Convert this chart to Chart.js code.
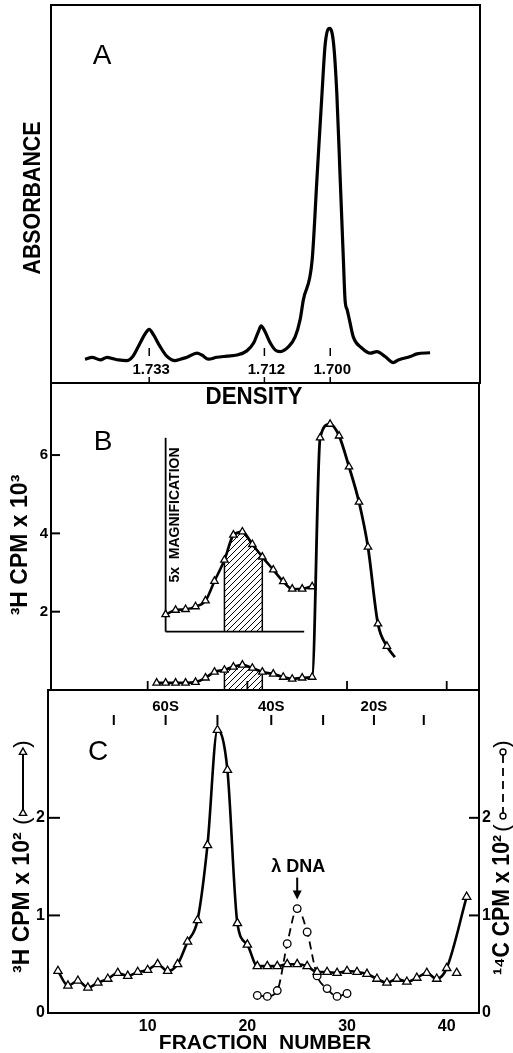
<!DOCTYPE html>
<html lang="en">
<head>
<meta charset="UTF-8">
<title>Density gradient and sedimentation profiles</title>
<script src="https://cdn.jsdelivr.net/npm/chart.js@4.4.1/dist/chart.umd.min.js"></script>
<style>
  html, body { margin: 0; padding: 0; background: #fff; }
  #wrap { position: relative; width: 513px; height: 1053px; }
  #wrap canvas { position: absolute; left: 0; top: 0; }
</style>
</head>
<body>
<div id="wrap">
  <canvas id="chartA" width="513" height="1053"></canvas>
  <canvas id="chartB" width="513" height="1053"></canvas>
  <canvas id="chartC" width="513" height="1053"></canvas>
</div>
<script>
// Panel A - absorbance trace across the density gradient (arbitrary units)
var densityA = [1.7447, 1.7434, 1.7419, 1.7407, 1.7395, 1.7386, 1.7371, 1.7360, 1.7350, 1.7337,
  1.7330, 1.7322, 1.7310, 1.7298, 1.7283, 1.7273, 1.7261, 1.7243, 1.7234, 1.7222,
  1.7207, 1.7188, 1.7170, 1.7152, 1.7140, 1.7131, 1.7126, 1.7119, 1.7109, 1.7100,
  1.7091, 1.7076, 1.7064, 1.7055, 1.7049, 1.7033, 1.7024, 1.7015, 1.7009, 1.7001,
  1.6994, 1.6988, 1.6982, 1.6976, 1.6973, 1.6969, 1.6965, 1.6958, 1.6942, 1.6927,
  1.6915, 1.6900, 1.6885, 1.6876, 1.6854, 1.6842, 1.6818];
var absorbA = [6.3, 6.8, 6.1, 6.8, 6.4, 6.1, 5.9, 7.0, 9.6, 13.1,
  14.2, 12.7, 9.6, 7.1, 5.9, 6.3, 6.8, 7.9, 7.4, 6.3,
  6.8, 7.1, 7.4, 8.5, 10.5, 13.6, 15.1, 13.6, 10.5, 8.7,
  8.3, 9.6, 12.2, 16.7, 22.0, 32.5, 54.6, 76.6, 89.9, 93.8,
  89.9, 76.6, 54.6, 32.5, 22.0, 19.3, 16.7, 12.2, 9.2, 7.9,
  8.3, 7.0, 5.4, 6.1, 7.0, 7.7, 8.0];
var densityTicks = [1.733, 1.712, 1.700];

// Panel B - 3H CPM x 10^3 by fraction, plus the 5x magnified inset
var fracB = [10.9, 11.8, 12.8, 13.8, 14.8, 15.8, 16.7, 17.7, 18.6, 19.5, 20.5, 21.5, 22.6,
  23.6, 24.5, 25.5, 26.5, 27.3, 28.3, 29.2, 30.2, 31.2, 32.1, 33.1, 34.0, 34.8];
var cpmB = [0.18, 0.18, 0.18, 0.18, 0.20, 0.31, 0.46, 0.51, 0.59, 0.64, 0.56, 0.46, 0.41,
  0.33, 0.28, 0.31, 0.33, 6.44, 6.79, 6.49, 5.70, 4.80, 3.65, 1.69, 1.12, 0.84];
var fracInset = [11.8, 12.8, 13.8, 14.8, 15.8, 16.7, 17.7, 18.6, 19.5, 20.5, 21.5, 22.6,
  23.6, 24.5, 25.5, 26.5, 26.8];
var cpmInset = [1.93, 2.04, 2.06, 2.13, 2.28, 2.78, 3.32, 3.96, 4.04, 3.72, 3.40, 3.07,
  2.77, 2.58, 2.58, 2.64, 2.61];
var insetBase = 1.49, insetTop = 6.44, insetX0 = 11.8, insetX1 = 25.7;
var hatchFrom = 17.7, hatchTo = 21.5;
var yTicksB = [2, 4, 6];
var xTicksB = [10, 20, 30, 40];

// Panel C - 3H (triangles) and 14C (circles) CPM x 10^2 by fraction number
var fracH3 = [1, 2, 3, 4, 5, 6, 7, 8, 9, 10, 11, 12, 13, 14, 15, 16, 17, 18, 19, 20,
  21, 22, 23, 24, 25, 26, 27, 28, 29, 30, 31, 32, 33, 34, 35, 36, 37, 38, 39, 40, 42];
var cpmH3 = [0.43, 0.28, 0.33, 0.26, 0.31, 0.35, 0.41, 0.38, 0.42, 0.44, 0.50, 0.43, 0.50,
  0.73, 0.95, 1.72, 2.90, 2.49, 0.92, 0.70, 0.48, 0.48, 0.48, 0.50, 0.50, 0.48, 0.42,
  0.42, 0.41, 0.43, 0.42, 0.40, 0.35, 0.31, 0.35, 0.32, 0.36, 0.41, 0.35, 0.46, 1.19];
var fracH3Off = [41];
var cpmH3Off = [0.41];
var fracC14 = [21, 22, 23, 24, 25, 26, 27, 28, 29, 30];
var cpmC14 = [0.18, 0.17, 0.23, 0.71, 1.07, 0.83, 0.38, 0.25, 0.17, 0.20];
var lambdaPeak = 25;
var sedFrac = [6.6, 11.8, 17.0, 22.4, 27.6, 32.7, 37.7];
var sedLabels = ['', '60S', '', '40S', '', '20S', ''];
var xTicksC = [10, 20, 30, 40];
var yTicksC = [0, 1, 2];

var FONT = '"Liberation Sans", Arial, sans-serif';

function xy(xs, ys) {
  return xs.map(function(x, i) { return { x: x, y: ys[i] }; });
}

function text(ctx, s, x, y, size, opt) {
  opt = opt || {};
  ctx.save();
  ctx.translate(x, y);
  if (opt.rot) ctx.rotate(opt.rot);
  ctx.font = (opt.weight || 'bold') + ' ' + size + 'px ' + FONT;
  ctx.fillStyle = '#000';
  ctx.textAlign = opt.align || 'center';
  ctx.textBaseline = 'middle';
  if (opt.maxW) ctx.fillText(s, 0, 0, opt.maxW); else ctx.fillText(s, 0, 0);
  ctx.restore();
}

function seg(ctx, x1, y1, x2, y2, w, dash) {
  ctx.save();
  ctx.strokeStyle = '#000';
  ctx.lineWidth = w || 2;
  ctx.setLineDash(dash || []);
  ctx.beginPath();
  ctx.moveTo(x1, y1);
  ctx.lineTo(x2, y2);
  ctx.stroke();
  ctx.restore();
}

function tri(ctx, x, y, r) {
  ctx.save();
  ctx.fillStyle = '#fff';
  ctx.strokeStyle = '#000';
  ctx.lineWidth = 1.4;
  ctx.beginPath();
  ctx.moveTo(x, y - r);
  ctx.lineTo(x + r * 0.9, y + r * 0.6);
  ctx.lineTo(x - r * 0.9, y + r * 0.6);
  ctx.closePath();
  ctx.fill();
  ctx.stroke();
  ctx.restore();
}

function circ(ctx, x, y, r) {
  ctx.save();
  ctx.fillStyle = '#fff';
  ctx.strokeStyle = '#000';
  ctx.lineWidth = 1.4;
  ctx.beginPath();
  ctx.arc(x, y, r, 0, Math.PI * 2);
  ctx.fill();
  ctx.stroke();
  ctx.restore();
}

function frame(ctx, a) {
  ctx.save();
  ctx.strokeStyle = '#000';
  ctx.lineWidth = 2;
  ctx.strokeRect(a.left, a.top, a.right - a.left, a.bottom - a.top);
  ctx.restore();
}

function hatchPattern() {
  var c = document.createElement('canvas');
  c.width = 6; c.height = 6;
  var g = c.getContext('2d');
  g.strokeStyle = '#000';
  g.lineWidth = 1;
  g.beginPath();
  g.moveTo(0, 6); g.lineTo(6, 0);
  g.moveTo(-1, 1); g.lineTo(1, -1);
  g.moveTo(5, 7); g.lineTo(7, 5);
  g.stroke();
  return g.createPattern(c, 'repeat');
}

// closed outline under a curve between two fractions, down to a base value
function hatchPoly(xs, ys, base) {
  var pts = [{ x: hatchFrom, y: base }];
  xs.forEach(function(x, i) {
    if (x >= hatchFrom && x <= hatchTo) pts.push({ x: x, y: ys[i] });
  });
  pts.push({ x: hatchTo, y: base });
  return pts;
}

var common = {
  responsive: false,
  animation: false,
  events: [],
  plugins: { legend: { display: false }, tooltip: { enabled: false } }
};

function opts(extra) {
  return Object.assign({}, common, extra);
}

// ---------- Panel A ----------
var panelA = {
  id: 'panelA',
  afterDraw: function(chart) {
    var ctx = chart.ctx, a = chart.chartArea, xs = chart.scales.x;
    frame(ctx, a);
    densityTicks.forEach(function(d) {
      var px = xs.getPixelForValue(d);
      seg(ctx, px, a.bottom - 35, px, a.bottom - 27, 1.5);
      text(ctx, d.toFixed(3), px + 2, a.bottom - 13, 15);
      seg(ctx, px, a.bottom - 6, px, a.bottom, 1.5);
    });
    text(ctx, 'A', 102, 56, 28, { weight: 'normal' });
    text(ctx, 'ABSORBANCE', 34, 198, 23, { rot: -Math.PI / 2, maxW: 153 });
    text(ctx, 'DENSITY', 254, 398, 23, { maxW: 97 });
  }
};

new Chart(document.getElementById('chartA'), {
  type: 'line',
  data: {
    datasets: [{
      data: xy(densityA, absorbA),
      borderColor: '#000',
      borderWidth: 3.2,
      pointRadius: 0,
      cubicInterpolationMode: 'monotone',
      fill: false
    }]
  },
  options: opts({
    layout: { padding: { left: 51, right: 33, top: 5, bottom: 670 } },
    scales: {
      x: { type: 'linear', reverse: true, min: 1.6727, max: 1.7509, display: false },
      y: { min: 0, max: 100, display: false }
    }
  }),
  plugins: [panelA]
});

// ---------- Panel B ----------
var hatch = hatchPattern();

var panelB = {
  id: 'panelB',
  beforeDatasetsDraw: function(chart) {
    var ctx = chart.ctx, xs = chart.scales.x, ys = chart.scales.y;
    var ox = xs.getPixelForValue(insetX0), oy = ys.getPixelForValue(insetBase);
    seg(ctx, ox, ys.getPixelForValue(insetTop), ox, oy, 1.8);
    seg(ctx, ox, oy, xs.getPixelForValue(insetX1), oy, 1.8);
  },
  afterDraw: function(chart) {
    var ctx = chart.ctx, a = chart.chartArea, xs = chart.scales.x, ys = chart.scales.y;
    frame(ctx, a);
    yTicksB.forEach(function(v) {
      var py = ys.getPixelForValue(v);
      seg(ctx, a.left, py, a.left + 9, py, 2);
    });
    xTicksB.forEach(function(v) {
      var px = xs.getPixelForValue(v);
      seg(ctx, px, a.bottom, px, a.bottom - 9, 1.8);
    });
    text(ctx, 'B', 103, 442, 28, { weight: 'normal' });
    text(ctx, '5x  MAGNIFICATION', 175, 515, 14, { rot: -Math.PI / 2, maxW: 146 });
    text(ctx, '³H CPM x 10³', 21, 545, 23, { rot: -Math.PI / 2, maxW: 150 });
  }
};

var triStyle = {
  borderColor: '#000',
  pointStyle: 'triangle',
  pointBackgroundColor: '#fff',
  pointBorderColor: '#000',
  pointBorderWidth: 1.3,
  cubicInterpolationMode: 'monotone',
  fill: false
};

new Chart(document.getElementById('chartB'), {
  type: 'line',
  data: {
    datasets: [
      Object.assign({}, triStyle, {
        data: xy(fracB, cpmB),
        borderWidth: 2.8,
        pointRadius: fracB.map(function(x, i) { return i === fracB.length - 1 ? 0 : 4.3; })
      }),
      Object.assign({}, triStyle, {
        data: xy(fracInset, cpmInset),
        borderWidth: 2.6,
        pointRadius: fracInset.map(function(x, i) { return i === fracInset.length - 1 ? 0 : 4.3; })
      }),
      {
        data: hatchPoly(fracB, cpmB, 0),
        borderColor: '#000', borderWidth: 1.5, pointRadius: 0, tension: 0,
        backgroundColor: hatch, fill: 'origin'
      },
      {
        data: hatchPoly(fracInset, cpmInset, insetBase),
        borderColor: '#000', borderWidth: 1.5, pointRadius: 0, tension: 0,
        backgroundColor: hatch, fill: { value: insetBase }
      }
    ]
  },
  options: opts({
    layout: { padding: { left: 0, right: 34, top: 383, bottom: 363 } },
    scales: {
      x: { type: 'linear', min: 0.3, max: 43.24, display: false },
      y: {
        position: 'left', min: 0, max: 7.84,
        afterFit: function(s) { s.width = 51; },
        afterBuildTicks: function(s) { s.ticks = yTicksB.map(function(v) { return { value: v }; }); },
        grid: { display: false, drawTicks: false },
        border: { display: false },
        ticks: { color: '#000', padding: 3, font: { family: FONT, size: 15, weight: 'bold' } }
      }
    }
  }),
  plugins: [panelB]
});

// ---------- Panel C ----------
var panelC = {
  id: 'panelC',
  afterDraw: function(chart) {
    var ctx = chart.ctx, a = chart.chartArea, xs = chart.scales.x, ys = chart.scales.y;
    frame(ctx, a);
    [1, 2].forEach(function(v) {
      var py = ys.getPixelForValue(v);
      seg(ctx, a.left, py, a.left + 12, py, 2);
      seg(ctx, a.right, py, a.right - 10, py, 2);
    });
    sedFrac.forEach(function(f, i) {
      var px = xs.getPixelForValue(f);
      seg(ctx, px, a.top + 25, px, a.top + 35, 2);
      if (sedLabels[i]) text(ctx, sedLabels[i], px, a.top + 17, 15);
    });
    text(ctx, 'C', 98, 752, 28, { weight: 'normal' });

    // lambda DNA marker over the 14C peak
    var lx = xs.getPixelForValue(lambdaPeak);
    var ly = chart.scales.y1.getPixelForValue(cpmC14[fracC14.indexOf(lambdaPeak)]);
    text(ctx, 'λ DNA', lx + 1, ly - 42, 18);
    seg(ctx, lx, ly - 31, lx, ly - 16, 2);
    ctx.save();
    ctx.fillStyle = '#000';
    ctx.beginPath();
    ctx.moveTo(lx - 4.5, ly - 18);
    ctx.lineTo(lx + 4.5, ly - 18);
    ctx.lineTo(lx, ly - 9);
    ctx.closePath();
    ctx.fill();
    ctx.restore();

    // left axis title with its line/triangle key
    text(ctx, '³H CPM x 10²', 23, 973, 23, { rot: -Math.PI / 2, align: 'left', maxW: 146 });
    text(ctx, '(', 23, 821, 22, { rot: -Math.PI / 2, weight: 'normal' });
    seg(ctx, 23, 813, 23, 752, 2);
    tri(ctx, 23, 813, 4);
    tri(ctx, 23, 752, 4);
    text(ctx, ')', 23, 744, 22, { rot: -Math.PI / 2, weight: 'normal' });

    // right axis title with its dashed/circle key
    text(ctx, '¹⁴C CPM x 10²', 503, 975, 23, { rot: -Math.PI / 2, align: 'left', maxW: 140 });
    text(ctx, '(', 503, 828, 22, { rot: -Math.PI / 2, weight: 'normal' });
    seg(ctx, 503, 815, 503, 753, 1.8, [8, 5]);
    circ(ctx, 503, 816, 3);
    circ(ctx, 503, 752, 3);
    text(ctx, ')', 503, 744, 22, { rot: -Math.PI / 2, weight: 'normal' });

    text(ctx, 'FRACTION  NUMBER', 265, 1043, 21, { maxW: 222 });
  }
};

var yAxisC = function(pos, width) {
  return {
    position: pos, min: 0, max: 3.31,
    afterFit: function(s) { s.width = width; },
    afterBuildTicks: function(s) { s.ticks = yTicksC.map(function(v) { return { value: v }; }); },
    grid: { display: false, drawTicks: false },
    border: { display: false },
    ticks: { color: '#000', padding: 3, font: { family: FONT, size: 16, weight: 'bold' } }
  };
};

new Chart(document.getElementById('chartC'), {
  type: 'line',
  data: {
    datasets: [
      Object.assign({}, triStyle, {
        data: xy(fracH3, cpmH3),
        borderWidth: 2.6,
        pointRadius: 4.8,
        yAxisID: 'y'
      }),
      Object.assign({}, triStyle, {
        data: xy(fracH3Off, cpmH3Off),
        showLine: false,
        pointRadius: 4.8,
        yAxisID: 'y'
      }),
      {
        data: xy(fracC14, cpmC14),
        borderColor: '#000',
        borderWidth: 1.8,
        borderDash: [8, 5],
        pointStyle: 'circle',
        pointRadius: 3.8,
        pointBackgroundColor: '#fff',
        pointBorderColor: '#000',
        pointBorderWidth: 1.3,
        cubicInterpolationMode: 'monotone',
        fill: false,
        yAxisID: 'y1'
      }
    ]
  },
  options: opts({
    layout: { padding: { left: 0, right: 0, top: 690, bottom: 15 } },
    scales: {
      x: {
        type: 'linear', min: 0, max: 43.24,
        afterFit: function(s) { s.height = 25; },
        afterBuildTicks: function(s) { s.ticks = xTicksC.map(function(v) { return { value: v }; }); },
        grid: { display: false, drawTicks: false },
        border: { display: false },
        ticks: { color: '#000', padding: 4, maxRotation: 0, font: { family: FONT, size: 16, weight: 'bold' } }
      },
      y: yAxisC('left', 48),
      y1: yAxisC('right', 34)
    }
  }),
  plugins: [panelC]
});
</script>
</body>
</html>
